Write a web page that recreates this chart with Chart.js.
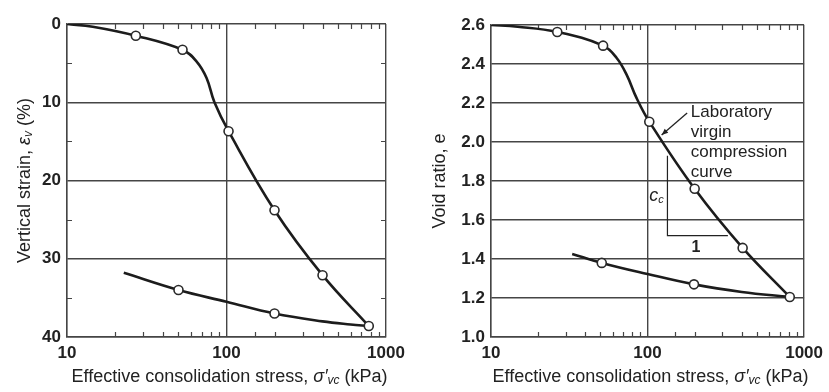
<!DOCTYPE html>
<html lang="en">
<head>
<meta charset="UTF-8">
<title>Consolidation curves</title>
<script src="https://cdn.jsdelivr.net/npm/chart.js"></script>
<style>
    body { margin: 0; background: #fff; }
    #wrap { position: relative; width: 829px; height: 392px; }
    canvas { position: absolute; top: 0; }
    #strain-chart { left: 0; }
    #void-chart { left: 415px; }
</style>
</head>
<body>
<div id="wrap">
    <canvas id="strain-chart" width="415" height="392"></canvas>
    <canvas id="void-chart" width="414" height="392"></canvas>
</div>

<script>
    // left panel: vertical strain (%)
    var strainLoadStress = [10, 14.5, 27, 53, 65, 75, 84, 103, 200, 400, 780];
    var strainLoad = [0, 0.35, 1.5, 3.3, 4.8, 6.9, 10.0, 13.7, 23.8, 32.1, 38.6];
    var strainUnloadStress = [22.7, 50, 100, 200, 400, 600, 780];
    var strainUnload = [31.8, 34.0, 35.5, 37.0, 38.0, 38.4, 38.6];
    var strainTestStress = [27, 53, 103, 200, 400, 780, 50, 200];
    var strainTest = [1.5, 3.3, 13.7, 23.8, 32.1, 38.6, 34.0, 37.0];

    // right panel: void ratio e
    var voidLoadStress = [10, 14.8, 26.5, 52, 63.5, 73.6, 85, 102.6, 200, 405, 810];
    var voidLoad = [2.6, 2.591, 2.564, 2.494, 2.431, 2.344, 2.226, 2.104, 1.76, 1.457, 1.205];
    var voidUnloadStress = [33, 51, 100, 198, 400, 810];
    var voidUnload = [1.426, 1.38, 1.323, 1.27, 1.231, 1.205];
    var voidTestStress = [26.5, 52, 102.6, 200, 405, 810, 51, 198];
    var voidTest = [2.564, 2.494, 2.104, 1.76, 1.457, 1.205, 1.38, 1.27];

    var stressLabels = [10, 100, 1000];
    var strainMinor = [5, 15, 25, 35];

    var FONT = '"Liberation Sans", Arial, sans-serif';
    var INK = '#222';
    var GRID = '#454545';

    function pts(xs, ys) {
        return xs.map((x, i) => ({ x: x, y: ys[i] }));
    }

    function isDecade(v) {
        return stressLabels.indexOf(v) !== -1;
    }

    function drawRich(ctx, parts, cx, cy) {
        var w = 0;
        parts.forEach(p => { ctx.font = p.f; w += ctx.measureText(p.t).width; });
        var x = cx - w / 2;
        parts.forEach(p => {
            ctx.font = p.f;
            ctx.fillText(p.t, x, cy + (p.dy || 0));
            x += ctx.measureText(p.t).width;
        });
    }

    var xTitle = [
        { t: 'Effective consolidation stress, ', f: '18px ' + FONT },
        { t: 'σ′', f: 'italic 18px ' + FONT },
        { t: 'vc', f: 'italic 12px ' + FONT, dy: 4 },
        { t: ' (kPa)', f: '18px ' + FONT }
    ];

    // minor ticks inside the frame + axis titles
    function framePlugin(yTitle, yMinor) {
        return {
            id: 'frame',
            beforeDatasetsDraw(chart) {
                var ctx = chart.ctx, a = chart.chartArea;
                var xs = chart.scales.x, ys = chart.scales.y;
                ctx.save();
                ctx.strokeStyle = GRID;
                ctx.lineWidth = 1.2;
                ctx.beginPath();
                xs.ticks.forEach(t => {
                    if (isDecade(t.value)) return;
                    var px = Math.round(xs.getPixelForValue(t.value)) + 0.5;
                    ctx.moveTo(px, a.bottom); ctx.lineTo(px, a.bottom - 5);
                    ctx.moveTo(px, a.top); ctx.lineTo(px, a.top + 5);
                });
                yMinor.forEach(v => {
                    var py = Math.round(ys.getPixelForValue(v)) + 0.5;
                    ctx.moveTo(a.left, py); ctx.lineTo(a.left + 5, py);
                    ctx.moveTo(a.right, py); ctx.lineTo(a.right - 5, py);
                });
                ctx.stroke();
                ctx.restore();
            },
            afterDraw(chart) {
                var ctx = chart.ctx, a = chart.chartArea;
                ctx.save();
                ctx.fillStyle = INK;
                ctx.textBaseline = 'middle';
                drawRich(ctx, xTitle, (a.left + a.right) / 2 + 3, 377);
                ctx.translate(25, (a.top + a.bottom) / 2);
                ctx.rotate(-Math.PI / 2);
                drawRich(ctx, yTitle, 0, 0);
                ctx.restore();
            }
        };
    }

    // label, arrow and slope triangle on the void ratio panel
    var notePlugin = {
        id: 'note',
        afterDraw(chart) {
            var ctx = chart.ctx;
            var xs = chart.scales.x, ys = chart.scales.y;
            var X = v => xs.getPixelForValue(v), Y = v => ys.getPixelForValue(v);
            ctx.save();
            ctx.fillStyle = INK;
            ctx.strokeStyle = INK;
            ctx.textBaseline = 'middle';
            ctx.font = '17px ' + FONT;
            var tx = X(189), ty = Y(2.154);
            ['Laboratory', 'virgin', 'compression', 'curve'].forEach((s, i) => {
                ctx.fillText(s, tx, ty + i * 20);
            });

            // arrow to the curve
            var x0 = X(179), y0 = Y(2.149), x1 = X(123), y1 = Y(2.036);
            ctx.lineWidth = 1.3;
            ctx.beginPath();
            ctx.moveTo(x0, y0); ctx.lineTo(x1, y1);
            ctx.stroke();
            var ang = Math.atan2(y1 - y0, x1 - x0);
            ctx.beginPath();
            ctx.moveTo(x1, y1);
            ctx.lineTo(x1 - 7 * Math.cos(ang - 0.4), y1 - 7 * Math.sin(ang - 0.4));
            ctx.lineTo(x1 - 7 * Math.cos(ang + 0.4), y1 - 7 * Math.sin(ang + 0.4));
            ctx.closePath();
            ctx.fill();

            // slope triangle
            ctx.lineWidth = 1.2;
            ctx.beginPath();
            ctx.moveTo(X(134), Y(1.93));
            ctx.lineTo(X(134), Y(1.52));
            ctx.lineTo(X(326), Y(1.52));
            ctx.stroke();

            drawRich(ctx, [
                { t: 'c', f: 'italic 18px ' + FONT },
                { t: 'c', f: 'italic 11px ' + FONT, dy: 4 }
            ], X(114), Y(1.723));
            ctx.font = 'bold 16px ' + FONT;
            ctx.textAlign = 'center';
            ctx.fillText('1', X(204), Y(1.456));
            ctx.restore();
        }
    };

    function createChart(id, cfg) {
        var ctx = document.getElementById(id).getContext('2d');
        return new Chart(ctx, {
            type: 'line',
            data: {
                datasets: [{
                    // test points, first so they are drawn on top
                    data: pts(cfg.testX, cfg.testY),
                    showLine: false,
                    pointRadius: 4.5,
                    pointBorderWidth: 1.6,
                    pointBackgroundColor: '#ffffff',
                    pointBorderColor: '#2a2a2a'
                }, {
                    data: pts(cfg.loadX, cfg.loadY),
                    borderColor: '#1c1c1c',
                    borderWidth: 2.6,
                    pointRadius: 0,
                    tension: 0.4
                }, {
                    data: pts(cfg.unloadX, cfg.unloadY),
                    borderColor: '#1c1c1c',
                    borderWidth: 2.6,
                    pointRadius: 0,
                    tension: 0.4
                }]
            },
            options: {
                responsive: false,
                animation: false,
                layout: { padding: cfg.padding },
                plugins: {
                    legend: { display: false },
                    tooltip: { enabled: false }
                },
                scales: {
                    x: {
                        type: 'logarithmic',
                        min: 10,
                        max: 1000,
                        afterFit: s => { s.height = 55; },
                        border: { display: true, color: GRID, width: 1.4 },
                        grid: {
                            drawTicks: false,
                            lineWidth: 1.4,
                            color: c => isDecade(c.tick.value) ? GRID : 'rgba(0,0,0,0)'
                        },
                        ticks: {
                            autoSkip: false,
                            maxRotation: 0,
                            padding: 6,
                            color: INK,
                            font: { family: FONT, size: 17, weight: 'bold' },
                            callback: v => isDecade(v) ? String(v) : ''
                        }
                    },
                    y: {
                        min: cfg.yMin,
                        max: cfg.yMax,
                        reverse: cfg.reverse,
                        afterFit: s => { s.width = cfg.yWidth; },
                        border: { display: true, color: GRID, width: 1.4 },
                        grid: { drawTicks: false, lineWidth: 1.4, color: GRID },
                        ticks: {
                            stepSize: cfg.step,
                            padding: 6,
                            color: INK,
                            font: { family: FONT, size: 17, weight: 'bold' },
                            callback: cfg.fmt
                        }
                    }
                }
            },
            plugins: cfg.plugins
        });
    }

    createChart('strain-chart', {
        loadX: strainLoadStress, loadY: strainLoad,
        unloadX: strainUnloadStress, unloadY: strainUnload,
        testX: strainTestStress, testY: strainTest,
        yMin: 0, yMax: 40, step: 10, reverse: true, yWidth: 67,
        fmt: v => String(v),
        padding: { top: 24, right: 29, bottom: 0, left: 0 },
        plugins: [framePlugin([
            { t: 'Vertical strain, ', f: '18px ' + FONT },
            { t: 'ε', f: 'italic 18px ' + FONT },
            { t: 'v', f: 'italic 12px ' + FONT, dy: 4 },
            { t: ' (%)', f: '18px ' + FONT }
        ], strainMinor)]
    });

    createChart('void-chart', {
        loadX: voidLoadStress, loadY: voidLoad,
        unloadX: voidUnloadStress, unloadY: voidUnload,
        testX: voidTestStress, testY: voidTest,
        yMin: 1.0, yMax: 2.6, step: 0.2, reverse: false, yWidth: 76,
        fmt: v => v.toFixed(1),
        padding: { top: 25, right: 22, bottom: 0, left: 0 },
        plugins: [framePlugin([
            { t: 'Void ratio, e', f: '18px ' + FONT }
        ], []), notePlugin]
    });
</script>
</body>
</html>
